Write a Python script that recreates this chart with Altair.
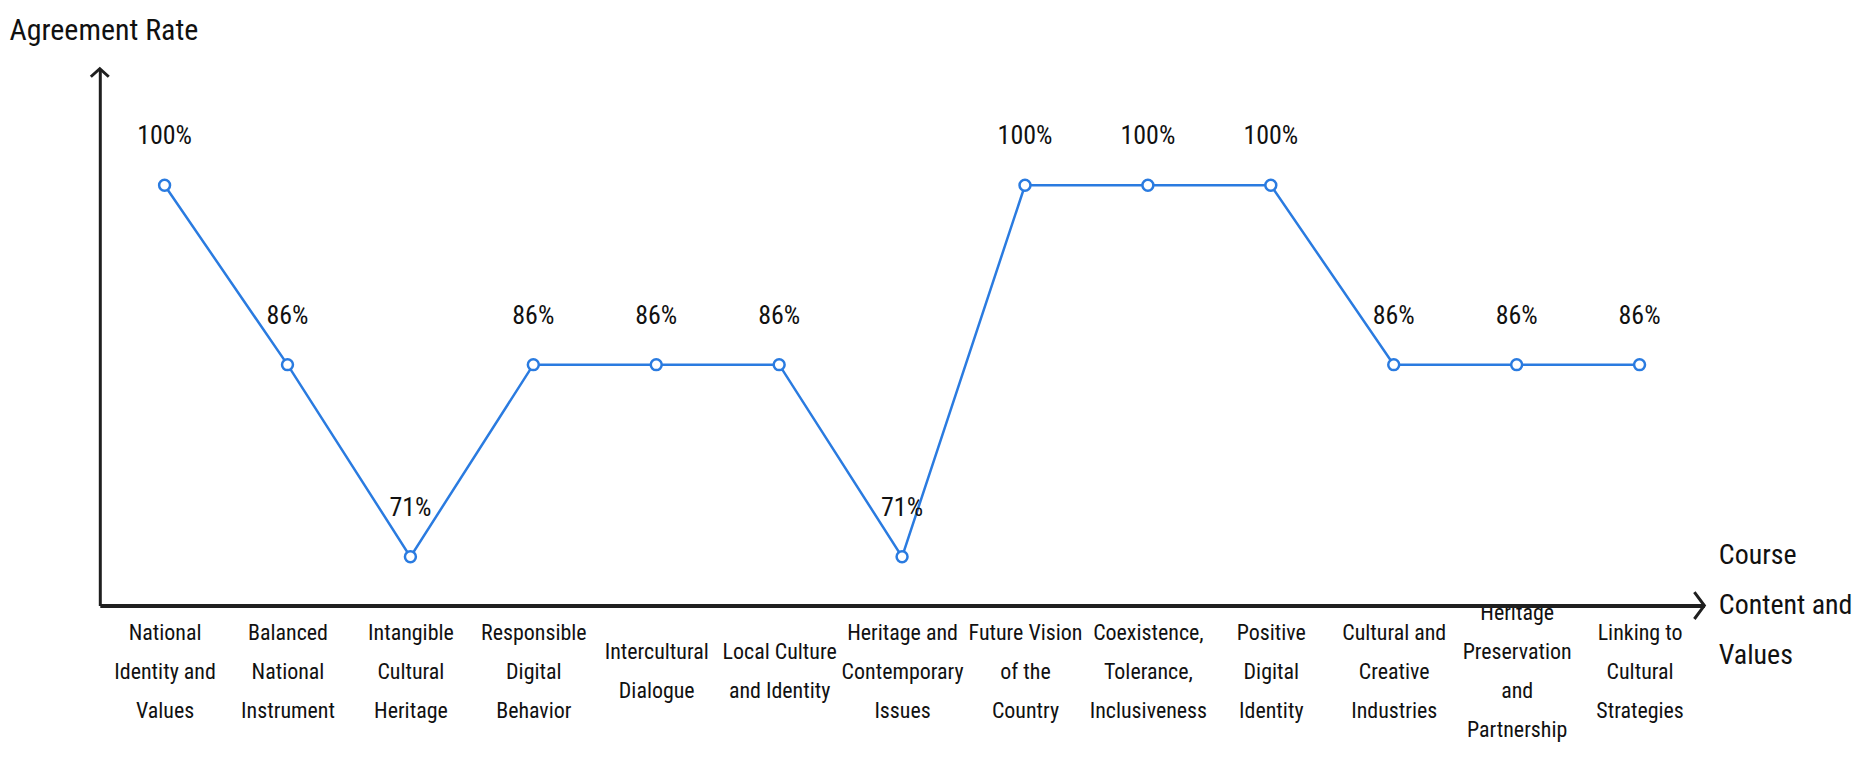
import altair as alt
import pandas as pd

# ---- data ----
CATEGORIES = [
    "National\nIdentity and\nValues",
    "Balanced\nNational\nInstrument",
    "Intangible\nCultural\nHeritage",
    "Responsible\nDigital\nBehavior",
    "Intercultural\nDialogue",
    "Local Culture\nand Identity",
    "Heritage and\nContemporary\nIssues",
    "Future Vision\nof the\nCountry",
    "Coexistence,\nTolerance,\nInclusiveness",
    "Positive\nDigital\nIdentity",
    "Cultural and\nCreative\nIndustries",
    "Heritage\nPreservation\nand\nPartnership",
    "Linking to\nCultural\nStrategies",
]
VALUES = [100, 86, 71, 86, 86, 86, 71, 100, 100, 100, 86, 86, 86]
Y_TITLE = "Agreement Rate"
X_TITLE = ["Course", "Content and", "Values"]

FONT = "Liberation Sans Narrow, Roboto Condensed, DejaVu Sans Condensed, Roboto, sans-serif"
W, H = 1608, 538
BLUE = "#2a7be0"
AXIS = "#1f1f1f"
LINE_H = 39

df = pd.DataFrame({"cat": CATEGORIES, "val": VALUES})
df["lab"] = df["val"].astype(str) + "%"

nlines = "length(split(datum.value, '\\n'))"
label_padding = {
    "condition": [
        {"test": f"{nlines} == 2", "value": 66 - LINE_H / 2},
        {"test": f"{nlines} == 4", "value": 66 - 1.5 * LINE_H},
    ],
    "value": 66 - LINE_H,
}

x = alt.X(
    "cat:O",
    sort=None,
    scale=alt.Scale(type="point", padding=0.527),
    axis=alt.Axis(
        title=X_TITLE,
        titleAngle=0,
        titleAlign="left",
        titleBaseline="middle",
        titleX=W + 14,
        titleY=-50,
        titleFont=FONT,
        titleFontSize=28,
        titleFontWeight="normal",
        titleColor="#111",
        titleLineHeight=50,
        labelExpr="split(datum.label, '\\n')",
        labelAngle=0,
        labelAlign="center",
        labelBaseline="middle",
        labelPadding=label_padding,
        labelFont=FONT,
        labelFontSize=22,
        labelLineHeight=LINE_H,
        labelColor="#111",
        labelOverlap=False,
        labelLimit=0,
        ticks=False,
        tickSize=0,
        domainColor=AXIS,
        domainWidth=4,
        grid=False,
    ),
)
y = alt.Y(
    "val:Q",
    scale=alt.Scale(domain=[67.2, 109.1], nice=False, zero=False),
    axis=alt.Axis(
        title=Y_TITLE,
        titleAngle=0,
        titleAlign="left",
        titleBaseline="middle",
        titleX=-91,
        titleY=-38,
        titleFont=FONT,
        titleFontSize=30,
        titleFontWeight="normal",
        titleColor="#111",
        labels=False,
        ticks=False,
        grid=False,
        domainColor=AXIS,
        domainWidth=3,
    ),
)

base = alt.Chart(df)
line = base.mark_line(color=BLUE, strokeWidth=2.5).encode(x=x, y=y)
pts = base.mark_point(
    shape="circle", filled=True, fill="white", stroke=BLUE, strokeWidth=2.5, size=120, opacity=1
).encode(x=x, y=y)
txt = base.mark_text(
    font=FONT, fontSize=26, color="#111", dy=-49, baseline="middle", align="center"
).encode(x=x, y=y, text="lab:N")

arrow_df = pd.DataFrame({"k": [0]})
up = alt.Chart(arrow_df).mark_point(
    shape="M-1,0.9 L0,0 L1,0.9", filled=False, stroke=AXIS, strokeWidth=3, size=324, opacity=1
).encode(x=alt.value(0), y=alt.value(0))
right = alt.Chart(arrow_df).mark_point(
    shape="M-0.74,-1 L0,0 L-0.74,1", filled=False, stroke=AXIS, strokeWidth=3, size=729, opacity=1
).encode(x=alt.value(W), y=alt.value(H))

chart = (
    alt.layer(line, pts, txt, up, right)
    .properties(
        width=W,
        height=H,
        autosize=alt.AutoSizeParams(type="none"),
        padding={"left": 92, "top": 60, "right": 155, "bottom": 150},
        background="white",
    )
    .configure_view(stroke=None)
)

chart.save("out.html", embed_options={"renderer": "svg", "actions": False})
